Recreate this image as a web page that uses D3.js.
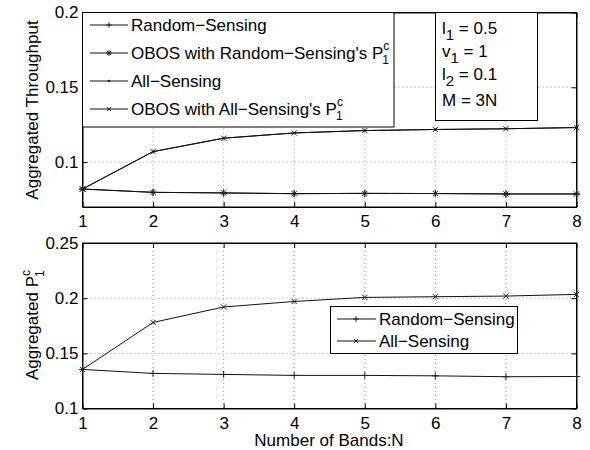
<!DOCTYPE html>
<html>
<head>
<meta charset="utf-8">
<script src="https://cdn.jsdelivr.net/npm/d3@7"></script>
<style>
  body { margin: 0; background: #fff; }
  text { font-family: "Liberation Sans", Arial, sans-serif; fill: #000; }
</style>
</head>
<body>
<div id="chart"></div>
<script>
// data
var bands = [1, 2, 3, 4, 5, 6, 7, 8];
var thrRandom     = [0.0820, 0.0798, 0.0794, 0.0789, 0.0791, 0.0790, 0.0787, 0.0787];
var thrObosRandom = [0.0820, 0.0798, 0.0794, 0.0789, 0.0791, 0.0790, 0.0787, 0.0787];
var thrAll        = [0.0820, 0.1070, 0.1160, 0.1195, 0.1211, 0.1218, 0.1223, 0.1231];
var thrObosAll    = [0.0820, 0.1070, 0.1160, 0.1195, 0.1211, 0.1218, 0.1223, 0.1231];
var pcRandom = [0.1354, 0.1318, 0.1309, 0.1300, 0.1300, 0.1296, 0.1288, 0.1290];
var pcAll    = [0.1354, 0.1780, 0.1920, 0.1970, 0.2007, 0.2013, 0.2019, 0.2034];
var thrTicks = [0.1, 0.15, 0.2];
var pcTicks = [0.1, 0.15, 0.2, 0.25];
var paramLines = [["l", "1", " = 0.5"], ["v", "1", " = 1"], ["l", "2", " = 0.1"], ["M = 3N", "", ""]];

var W = 590, H = 450, FS = 17;
var svg = d3.select("#chart").append("svg").attr("width", W).attr("height", H);

var x = d3.scaleLinear().domain([1, 8]).range([82.5, 576.5]);
var yTop = d3.scaleLinear().domain([0.07, 0.2]).range([207, 12.5]);
var yBot = d3.scaleLinear().domain([0.1, 0.25]).range([408.5, 243]);

function marker(g, type, px, py, s) {
  s = s || 3.5;
  var p = d3.path();
  if (type == "+" || type == "*") {
    p.moveTo(px - s, py); p.lineTo(px + s, py);
    p.moveTo(px, py - s); p.lineTo(px, py + s);
  }
  if (type == "x" || type == "*") {
    var d = s * 0.75;
    p.moveTo(px - d, py - d); p.lineTo(px + d, py + d);
    p.moveTo(px - d, py + d); p.lineTo(px + d, py - d);
  }
  if (type == ".") {
    g.append("circle").attr("cx", px).attr("cy", py).attr("r", 1.3).attr("fill", "#222");
    return;
  }
  g.append("path").attr("d", p.toString()).attr("stroke", "#222").attr("stroke-width", 1).attr("fill", "none");
}

function panel(y, ticks) {
  var g = svg.append("g");
  var x0 = x.range()[0], x1 = x.range()[1];
  var y0 = y.range()[1], y1 = y.range()[0];
  // dotted grid
  bands.slice(1, -1).forEach(function(b) {
    g.append("line").attr("x1", x(b)).attr("x2", x(b)).attr("y1", y0).attr("y2", y1)
      .attr("stroke", "#777").attr("stroke-width", 0.8).attr("stroke-dasharray", "1,3");
  });
  ticks.forEach(function(t) {
    if (y(t) > y0 + 1 && y(t) < y1 - 1)
      g.append("line").attr("x1", x0).attr("x2", x1).attr("y1", y(t)).attr("y2", y(t))
        .attr("stroke", "#777").attr("stroke-width", 0.8).attr("stroke-dasharray", "1,3");
  });
  // axes, ticks pointing inwards on all four sides
  var ax = g.append("g").attr("transform", "translate(0," + y1 + ")")
    .call(d3.axisBottom(x).tickValues(bands).tickFormat(d3.format("d")).tickSizeInner(-5).tickSizeOuter(0).tickPadding(8));
  var axt = g.append("g").attr("transform", "translate(0," + y0 + ")")
    .call(d3.axisTop(x).tickValues(bands).tickSizeInner(-5).tickSizeOuter(0).tickFormat(""));
  var ay = g.append("g").attr("transform", "translate(" + x0 + ",0)")
    .call(d3.axisLeft(y).tickValues(ticks).tickFormat(d3.format("")).tickSizeInner(-5).tickSizeOuter(0).tickPadding(4));
  var ayr = g.append("g").attr("transform", "translate(" + x1 + ",0)")
    .call(d3.axisRight(y).tickValues(ticks).tickSizeInner(-5).tickSizeOuter(0).tickFormat(""));
  [ax, axt, ay, ayr].forEach(function(a) {
    a.selectAll("path, line").attr("stroke", "#000");
    a.selectAll("text").attr("font-size", FS).attr("font-family", "Liberation Sans, Arial, sans-serif").attr("fill", "#000");
  });
  g.append("rect").attr("x", x0).attr("y", y0).attr("width", x1 - x0).attr("height", y1 - y0)
    .attr("fill", "none").attr("stroke", "#000").attr("stroke-width", 1);
  return g;
}

function series(g, y, vals, type) {
  var line = d3.line().x(function(d, i) { return x(bands[i]); }).y(function(d) { return y(d); });
  g.append("path").datum(vals).attr("d", line).attr("fill", "none").attr("stroke", "#111").attr("stroke-width", 1);
  vals.forEach(function(v, i) { marker(g, type, x(bands[i]), y(v)); });
}

var gTop = panel(yTop, thrTicks);
series(gTop, yTop, thrRandom, "+");
series(gTop, yTop, thrObosRandom, "*");
series(gTop, yTop, thrAll, ".");
series(gTop, yTop, thrObosAll, "x");

var gBot = panel(yBot, pcTicks);
series(gBot, yBot, pcRandom, "+");
series(gBot, yBot, pcAll, "x");

// y labels
svg.append("text").attr("transform", "translate(38,110) rotate(-90)").attr("text-anchor", "middle")
  .attr("font-size", FS).text("Aggregated Throughput");
var yl = svg.append("text").attr("transform", "translate(38,380) rotate(-90)")
  .attr("font-size", FS);
yl.append("tspan").text("Aggregated P");
yl.append("tspan").attr("font-size", 12).attr("dy", -8).text("c");
yl.append("tspan").attr("font-size", 12).attr("dx", -7).attr("dy", 14).text("1");

svg.append("text").attr("x", 329).attr("y", 446).attr("text-anchor", "middle")
  .attr("font-size", FS).text("Number of Bands:N");

// top legend
var legTop = [
  { name: "Random\u2212Sensing", type: "+", sup: false },
  { name: "OBOS with Random\u2212Sensing's P", type: "*", sup: true },
  { name: "All\u2212Sensing", type: ".", sup: false },
  { name: "OBOS with All\u2212Sensing's P", type: "x", sup: true }
];
svg.append("rect").attr("x", 82.5).attr("y", 12.5).attr("width", 311.5).attr("height", 114.5)
  .attr("fill", "#fff").attr("stroke", "#000");
legTop.forEach(function(d, i) {
  var ly = 25 + i * 28;
  svg.append("line").attr("x1", 90).attr("x2", 128).attr("y1", ly).attr("y2", ly).attr("stroke", "#111");
  marker(svg, d.type, 109, ly, 2.8);
  var t = svg.append("text").attr("x", 131).attr("y", ly + 6).attr("font-size", FS);
  t.append("tspan").text(d.name);
  if (d.sup) {
    t.append("tspan").attr("font-size", 12).attr("dy", -9).text("c");
    t.append("tspan").attr("font-size", 12).attr("dx", -7).attr("dy", 14).text("1");
  }
});

// parameter box
svg.append("rect").attr("x", 435.5).attr("y", 12.5).attr("width", 102).attr("height", 108)
  .attr("fill", "#fff").attr("stroke", "#000");
var paramY = [34, 57, 80, 106];
paramLines.forEach(function(p, i) {
  var t = svg.append("text").attr("x", 442).attr("y", paramY[i]).attr("font-size", FS);
  t.append("tspan").text(p[0]);
  if (p[1]) {
    t.append("tspan").attr("font-size", 15).attr("dy", 6).text(p[1]);
    t.append("tspan").attr("dy", -6).text(p[2]);
  }
});

// bottom legend
var legBot = [{ name: "Random\u2212Sensing", type: "+" }, { name: "All\u2212Sensing", type: "x" }];
svg.append("rect").attr("x", 330.5).attr("y", 306.5).attr("width", 187).attr("height", 47)
  .attr("fill", "#fff").attr("stroke", "#000");
legBot.forEach(function(d, i) {
  var ly = 319 + i * 22;
  svg.append("line").attr("x1", 337).attr("x2", 376).attr("y1", ly).attr("y2", ly).attr("stroke", "#111");
  marker(svg, d.type, 356, ly, 2.8);
  svg.append("text").attr("x", 379).attr("y", ly + 6).attr("font-size", FS).text(d.name);
});
</script>
</body>
</html>
